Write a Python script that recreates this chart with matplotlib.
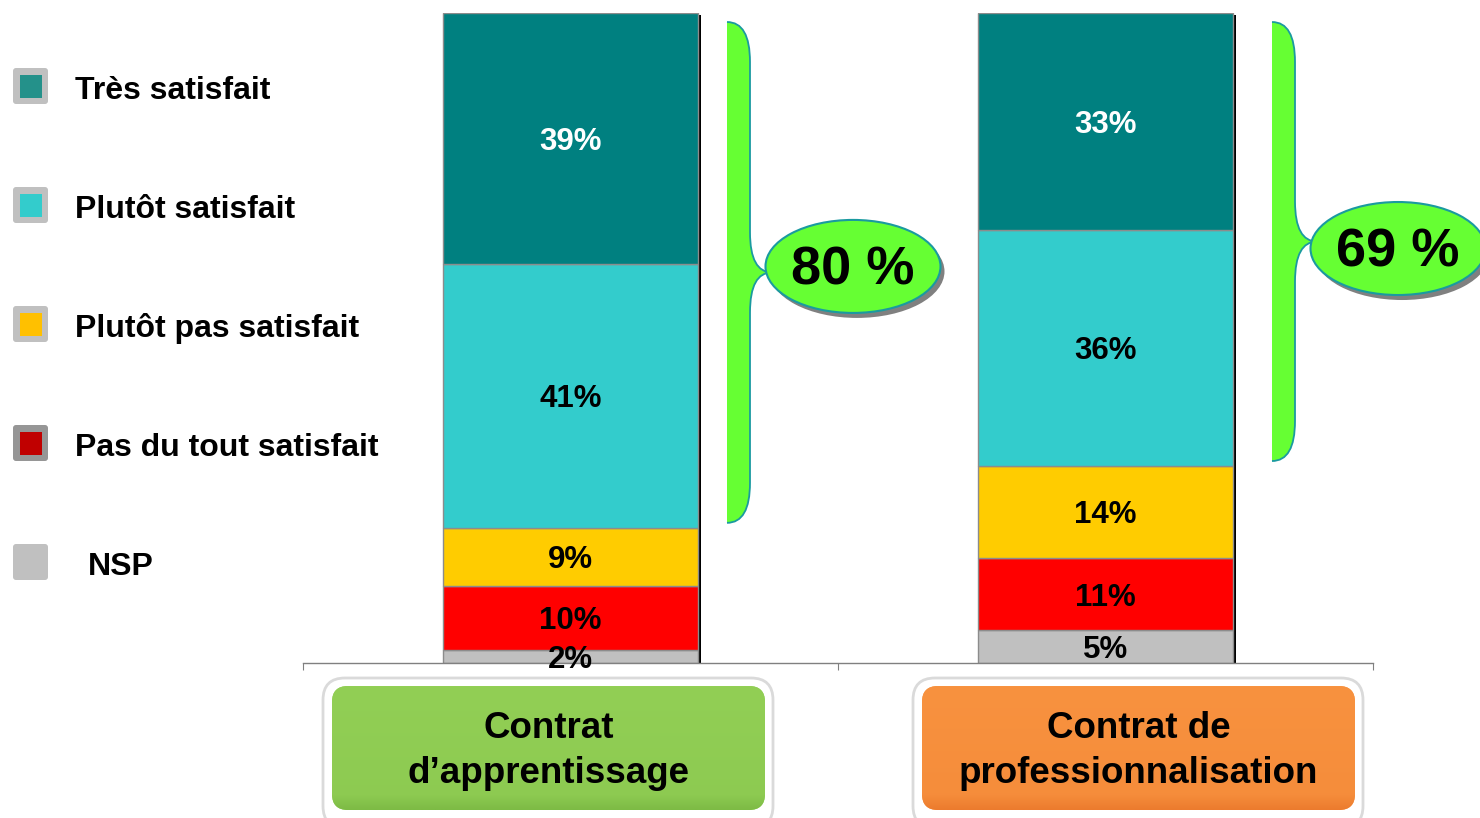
import numpy as np
import matplotlib.pyplot as plt
from matplotlib.patches import FancyBboxPatch, Ellipse, PathPatch, Rectangle
from matplotlib.path import Path

plt.rcParams['font.family'] = ['Liberation Sans', 'DejaVu Sans']
plt.rcParams['font.weight'] = 'bold'

# ----- Data -----
CONTRATS    = ["Contrat\nd’apprentissage", "Contrat de\nprofessionnalisation"]
NSP         = [2, 5]
PAS_DU_TOUT = [10, 11]
PLUTOT_PAS  = [9, 14]
PLUTOT      = [41, 36]
TRES        = [39, 33]
LEGEND_LABELS = ["Très satisfait", "Plutôt satisfait", "Plutôt pas satisfait",
                 "Pas du tout satisfait", "NSP"]
# -----------------

BAR_COLORS    = ["#C0C0C0", "#FF0000", "#FFCC00", "#33CCCC", "#008080"]
LEGEND_INNER  = ["#24918A", "#33CCCC", "#FFC000", "#C00000", "#C0C0C0"]
LEGEND_OUTER  = ["#C0C0C0", "#C0C0C0", "#C0C0C0", "#969696", "#C0C0C0"]
BOX_COLORS    = [("#92CF55", "#7DBB45"), ("#F8923F", "#EC7B2E")]
BRACE_GREEN   = "#66FF33"
BRACE_EDGE    = "#1A9AA0"

W, H = 1480, 818
fig = plt.figure(figsize=(W / 100, H / 100), dpi=100)

# bar axes: pixels 303..1373 x, 13..663 y
AX_L, AX_R, AX_T, AX_B = 303, 1373, 13, 663
ax = fig.add_axes([AX_L / W, (H - AX_B) / H, (AX_R - AX_L) / W, (AX_B - AX_T) / H])

series = [NSP, PAS_DU_TOUT, PLUTOT_PAS, PLUTOT, TRES]
raw = np.array(series, dtype=float)
totals = raw.sum(axis=0)
shares = raw / totals * 100

x = np.arange(len(CONTRATS))
bw = 0.477
# black shadow on right side
ax.bar(x + 0.006, np.full(len(x), 99.7), width=bw, color="black", zorder=1)
bottom = np.zeros(len(x))
for i, (vals, share) in enumerate(zip(series, shares)):
    ax.bar(x, share, bottom=bottom, width=bw, color=BAR_COLORS[i],
           edgecolor="#8C8C8C", linewidth=1, zorder=2)
    for j in range(len(x)):
        tc = "white" if i == len(series) - 1 else "black"
        ax.annotate(f"{vals[j]}%", (x[j], bottom[j] + share[j] / 2), xytext=(0, -2.5),
                    textcoords="offset points", ha="center", va="center",
                    fontsize=22.5, fontweight="bold", color=tc, zorder=3)
    bottom += share

ax.set_xlim(-0.5, 1.5)
ax.set_ylim(0, 100)
for s in ["top", "right", "left"]:
    ax.spines[s].set_visible(False)
ax.spines["bottom"].set_color("#808080")
ax.spines["bottom"].set_linewidth(1)
ax.set_yticks([])
ax.set_xticks([-0.5, 0.5, 1.5])
ax.set_xticklabels([])
ax.tick_params(axis="x", direction="out", length=5, color="#808080")


def to_px(v):
    return AX_B - v * (AX_B - AX_T) / 100.0


# decoration axes in pixel coords (y down)
deco = fig.add_axes([0, 0, 1, 1], zorder=5)
deco.set_facecolor("none")
deco.axis("off")

# legend
LEG_Y = [86, 205, 324, 443, 562]
for i, lab in enumerate(LEGEND_LABELS):
    yc = LEG_Y[i]
    deco.add_patch(FancyBboxPatch((13, yc - 18), 35, 36, boxstyle="round,pad=0,rounding_size=3",
                                  facecolor=LEGEND_OUTER[i], edgecolor="none"))
    if i < 4:
        deco.add_patch(Rectangle((19.5, yc - 11.5), 22, 23, facecolor=LEGEND_INNER[i], edgecolor="none"))
    lx = 88 if lab == "NSP" else 75
    deco.text(lx, yc + 5, lab, ha="left", va="center", fontsize=23, fontweight="bold")


def brace(x0, y_top, y_bot, w=23, tip=22, r=40):
    ym = (y_top + y_bot) / 2
    verts = [(x0, y_top), (x0 + w, y_top), (x0 + w, y_top + r),
             (x0 + w, ym - r), (x0 + w, ym), (x0 + w + tip, ym),
             (x0 + w, ym), (x0 + w, ym + r),
             (x0 + w, y_bot - r), (x0 + w, y_bot), (x0, y_bot)]
    codes = [Path.MOVETO, Path.CURVE3, Path.CURVE3,
             Path.LINETO, Path.CURVE3, Path.CURVE3,
             Path.CURVE3, Path.CURVE3,
             Path.LINETO, Path.CURVE3, Path.CURVE3]
    fill = Path(verts + [(x0, y_top)], codes + [Path.LINETO])
    deco.add_patch(PathPatch(fill, facecolor=BRACE_GREEN, edgecolor="none"))
    deco.add_patch(PathPatch(Path(verts, codes), facecolor="none", edgecolor=BRACE_EDGE, linewidth=1.3))
    return ym


BRACE_X = [727, 1272]
ELL_DY = [-6, 7]
for j in range(len(x)):
    satisfied = TRES[j] + PLUTOT[j]
    low_share = shares[:3, j].sum()
    y_top = to_px(100) + 9
    y_bot = to_px(low_share) - 5
    ym = brace(BRACE_X[j], y_top, y_bot)
    cx = BRACE_X[j] + 23 + 22 + 81
    cy = ym + ELL_DY[j]
    deco.add_patch(Ellipse((cx + 4, cy + 5), 175, 93, facecolor="#808080", edgecolor="none"))
    deco.add_patch(Ellipse((cx, cy), 175, 93, facecolor=BRACE_GREEN, edgecolor=BRACE_EDGE, linewidth=1.5))
    deco.text(cx, cy + 4, f"{satisfied} %", ha="center", va="center", fontsize=39, fontweight="bold")

# category boxes
BOX_X = [(323, 773), (913, 1363)]
for j, lab in enumerate(CONTRATS):
    x0, x1 = BOX_X[j]
    deco.add_patch(FancyBboxPatch((x0, 678), x1 - x0, 150, boxstyle="round,pad=0,rounding_size=22",
                                  facecolor="white", edgecolor="#DADADA", linewidth=2))
    ix0, ix1, iy0, iy1 = x0 + 9, x1 - 8, 686, 810
    inner = FancyBboxPatch((ix0, iy0), ix1 - ix0, iy1 - iy0, boxstyle="round,pad=0,rounding_size=16",
                           facecolor=BOX_COLORS[j][0], edgecolor="none")
    deco.add_patch(inner)
    c0 = np.array(plt.matplotlib.colors.to_rgb(BOX_COLORS[j][0]))
    c1 = np.array(plt.matplotlib.colors.to_rgb(BOX_COLORS[j][1]))
    t = np.linspace(0, 1, 100)[:, None]
    t = np.where(t < 0.88, t * 0.25, 0.22 + (t - 0.88) / 0.12 * 0.78)
    grad = (c0[None, :] * (1 - t) + c1[None, :] * t)[:, None, :]
    im = deco.imshow(grad, extent=(ix0, ix1, iy1, iy0), origin="upper", aspect="auto", zorder=1.5)
    im.set_clip_path(inner)
    deco.text((ix0 + ix1) / 2, 751, lab, ha="center", va="center", fontsize=26.5,
              fontweight="bold", linespacing=1.36, zorder=3)

deco.set_xlim(0, W)
deco.set_ylim(H, 0)

fig.savefig("out.png", dpi=100)
